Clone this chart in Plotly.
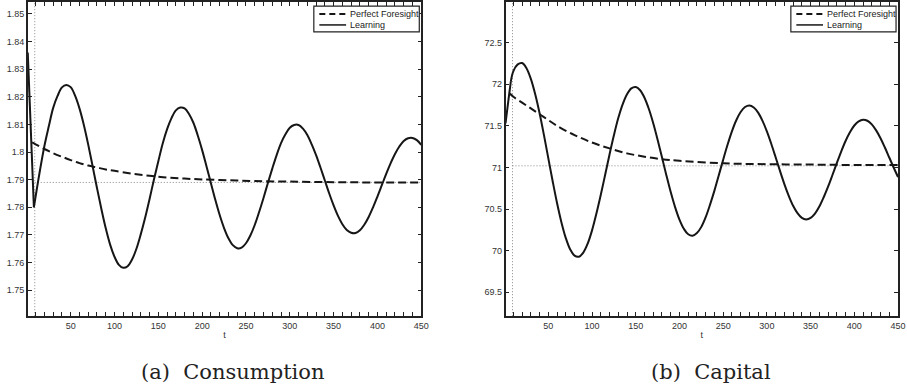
import plotly.graph_objects as go

# ---------------- data ----------------
# Consumption, learning path
t_learn_c = [1, 8] + list(range(10, 455, 5))
learn_c = [1.8360, 1.7800,
           1.7840, 1.7935, 1.8022, 1.8093, 1.8160, 1.8203, 1.8234, 1.8243, 1.8235, 1.8204,
           1.8158, 1.8098, 1.8027, 1.7949, 1.7870, 1.7794, 1.7724, 1.7665, 1.7621, 1.7592,
           1.7581, 1.7587, 1.7611, 1.7650, 1.7703, 1.7763, 1.7830, 1.7901, 1.7967, 1.8031,
           1.8083, 1.8123, 1.8151, 1.8161, 1.8158, 1.8138, 1.8106, 1.8060, 1.8007, 1.7948,
           1.7887, 1.7827, 1.7772, 1.7725, 1.7688, 1.7663, 1.7652, 1.7654, 1.7670, 1.7698,
           1.7736, 1.7783, 1.7834, 1.7888, 1.7940, 1.7989, 1.8032, 1.8064, 1.8088, 1.8098,
           1.8098, 1.8085, 1.8062, 1.8028, 1.7989, 1.7944, 1.7897, 1.7850, 1.7807, 1.7769,
           1.7739, 1.7718, 1.7708, 1.7707, 1.7717, 1.7737, 1.7765, 1.7800, 1.7839, 1.7880,
           1.7921, 1.7959, 1.7993, 1.8020, 1.8040, 1.8050, 1.8051, 1.8043, 1.8026]
# Consumption, perfect foresight path
t_pf_c = [6, 10, 20, 30, 40, 50, 60, 70, 80, 90, 100, 120, 140, 160, 180, 200, 230, 260,
          300, 350, 400, 450]
pf_c = [1.8035, 1.8028, 1.8011, 1.7996, 1.7983, 1.7971, 1.7960, 1.7951, 1.7944, 1.7937,
        1.7932, 1.7922, 1.7914, 1.7908, 1.7904, 1.7901, 1.7898, 1.7895, 1.7893, 1.7891,
        1.7890, 1.7890]

# Capital, learning path
t_learn_k = [1, 7] + list(range(10, 455, 5))
learn_k = [71.53, 72.03,
           72.160, 72.240, 72.256, 72.194, 72.066, 71.881, 71.652, 71.389, 71.110, 70.832,
           70.570, 70.340, 70.151, 70.015, 69.940, 69.927, 69.977, 70.084, 70.244, 70.446,
           70.672, 70.913, 71.157, 71.387, 71.594, 71.760, 71.882, 71.952, 71.968, 71.929,
           71.839, 71.703, 71.532, 71.334, 71.122, 70.908, 70.705, 70.524, 70.373, 70.263,
           70.197, 70.180, 70.211, 70.286, 70.403, 70.554, 70.722, 70.907, 71.094, 71.273,
           71.435, 71.568, 71.667, 71.727, 71.746, 71.722, 71.660, 71.561, 71.434, 71.285,
           71.123, 70.959, 70.801, 70.660, 70.540, 70.451, 70.394, 70.376, 70.393, 70.445,
           70.530, 70.642, 70.769, 70.910, 71.053, 71.192, 71.319, 71.424, 71.505, 71.555,
           71.575, 71.562, 71.518, 71.446, 71.352, 71.240, 71.120, 71.000, 70.885]
# Capital, perfect foresight path
t_pf_k = [6, 10, 20, 30, 40, 50, 60, 80, 100, 120, 140, 160, 180, 200, 250, 300, 350, 400, 450]
pf_k = [71.89, 71.85, 71.78, 71.71, 71.64, 71.57, 71.50, 71.39, 71.30, 71.23, 71.17, 71.13,
        71.10, 71.08, 71.05, 71.04, 71.035, 71.03, 71.03]

steady_c = 1.789
steady_k = 71.02
t_mark = 9
t_end = 450

x_ticks = [50, 100, 150, 200, 250, 300, 350, 400, 450]
x_ticktext = ["50", "100", "150", "200", "250", "300", "350", "400", "450"]
yc_ticks = [1.75, 1.76, 1.77, 1.78, 1.79, 1.80, 1.81, 1.82, 1.83, 1.84, 1.85]
yc_ticktext = ["1.75", "1.76", "1.77", "1.78", "1.79", "1.8", "1.81", "1.82", "1.83", "1.84", "1.85"]
yk_ticks = [69.5, 70, 70.5, 71, 71.5, 72, 72.5]
yk_ticktext = ["69.5", "70", "70.5", "71", "71.5", "72", "72.5"]

legend_labels = ["Perfect Foresight", "Learning"]
captions = ["(a)\u00a0\u00a0Consumption", "(b)\u00a0\u00a0Capital"]

# ---------------- figure ----------------
W, H = 907, 392
LINE = "#161616"
DASH = "8px,4px"
fig = go.Figure()

panels = [
    dict(xa="x", ya="y", tl=t_learn_c, l=learn_c, tp=t_pf_c, p=pf_c, ss=steady_c, kink=2),
    dict(xa="x2", ya="y2", tl=t_learn_k, l=learn_k, tp=t_pf_k, p=pf_k, ss=steady_k, kink=2),
]
yranges = [[1.7406, 1.8543], [69.212, 72.99]]

for i, pn in enumerate(panels):
    yr = yranges[i]
    # dotted reference lines
    fig.add_trace(go.Scatter(x=[t_mark, t_mark], y=yr, mode="lines", xaxis=pn["xa"], yaxis=pn["ya"],
                             line=dict(color="#8a8a8a", width=1, dash="1px,2px"), showlegend=False,
                             hoverinfo="skip"))
    fig.add_trace(go.Scatter(x=[t_mark, t_end], y=[pn["ss"], pn["ss"]], mode="lines",
                             xaxis=pn["xa"], yaxis=pn["ya"],
                             line=dict(color="#8a8a8a", width=1, dash="1px,2px"), showlegend=False,
                             hoverinfo="skip"))
    # perfect foresight
    fig.add_trace(go.Scatter(x=pn["tp"], y=pn["p"], mode="lines", xaxis=pn["xa"], yaxis=pn["ya"],
                             line=dict(color=LINE, width=2, dash=DASH, shape="spline"),
                             name=legend_labels[0], showlegend=False))
    # learning: initial jump (linear) then smooth path
    k = pn["kink"]
    fig.add_trace(go.Scatter(x=pn["tl"][:k], y=pn["l"][:k], mode="lines", xaxis=pn["xa"], yaxis=pn["ya"],
                             line=dict(color=LINE, width=2), showlegend=False))
    fig.add_trace(go.Scatter(x=pn["tl"][k - 1:], y=pn["l"][k - 1:], mode="lines",
                             xaxis=pn["xa"], yaxis=pn["ya"],
                             line=dict(color=LINE, width=2, shape="spline"),
                             name=legend_labels[1], showlegend=False))

# layout geometry
xd1 = [28 / W, 425 / W]
xd2 = [510 / W, 906 / W]
yd = [1 - 316 / H, 1 - 1 / H]

tickfont = dict(family="Liberation Sans, Arial, sans-serif", size=9, color="#333333")
common_x = dict(range=[1, 450], tickmode="array", tickvals=x_ticks, ticktext=x_ticktext,
                ticks="inside", ticklen=4, tickwidth=1, tickcolor="#222", showline=True,
                linecolor="#222", linewidth=1.5, mirror="ticks", showgrid=False, zeroline=False,
                tickfont=tickfont,
                minor=dict(tickmode="linear", tick0=0, dtick=10, ticks="inside", ticklen=4,
                           tickcolor="#222", tickwidth=1, showgrid=False),
                title=dict(text="t", font=dict(family="Liberation Sans, Arial, sans-serif",
                                               size=9, color="#333333"), standoff=2))
common_y = dict(tickmode="array", ticks="inside", ticklen=4, tickwidth=1, tickcolor="#222",
                showline=True, linecolor="#222", linewidth=1.5, mirror="ticks", showgrid=False,
                zeroline=False, tickfont=tickfont)

fig.update_layout(
    width=W, height=H, margin=dict(l=0, r=0, t=0, b=0),
    paper_bgcolor="white", plot_bgcolor="white", showlegend=False,
    xaxis=dict(domain=xd1, anchor="y", **common_x),
    yaxis=dict(domain=yd, anchor="x", range=yranges[0], tickvals=yc_ticks, ticktext=yc_ticktext,
               **common_y),
    xaxis2=dict(domain=xd2, anchor="y2", **common_x),
    yaxis2=dict(domain=yd, anchor="x2", range=yranges[1], tickvals=yk_ticks, ticktext=yk_ticktext,
                **common_y),
)

# manual legends (MATLAB style) in each panel
shapes = []
annotations = []
for xr, yr in [("x domain", "y domain"), ("x2 domain", "y2 domain")]:
    shapes.append(dict(type="rect", xref=xr, yref=yr, x0=0.727, x1=0.995, y0=0.905, y1=0.987,
                       line=dict(color="#222", width=1.2), fillcolor="white", layer="above"))
    shapes.append(dict(type="line", xref=xr, yref=yr, x0=0.741, x1=0.809, y0=0.962, y1=0.962,
                       line=dict(color=LINE, width=2, dash="6px,4px"), layer="above"))
    shapes.append(dict(type="line", xref=xr, yref=yr, x0=0.741, x1=0.809, y0=0.927, y1=0.927,
                       line=dict(color=LINE, width=1.5), layer="above"))
    for lab, yy in zip(legend_labels, [0.962, 0.927]):
        annotations.append(dict(xref=xr, yref=yr, x=0.813, y=yy, text=lab, showarrow=False,
                                xanchor="left", yanchor="middle",
                                font=dict(family="Liberation Sans, Arial, sans-serif", size=9,
                                          color="#222")))

for cap, cx in zip(captions, [235 / W, 717.5 / W]):
    annotations.append(dict(xref="paper", yref="paper", x=cx, y=1 - 372 / H, text=cap,
                            showarrow=False, xanchor="center", yanchor="middle",
                            font=dict(family="DejaVu Serif, serif", size=21, color="#222")))

fig.update_layout(shapes=shapes, annotations=annotations)
fig.write_html("out.html")
